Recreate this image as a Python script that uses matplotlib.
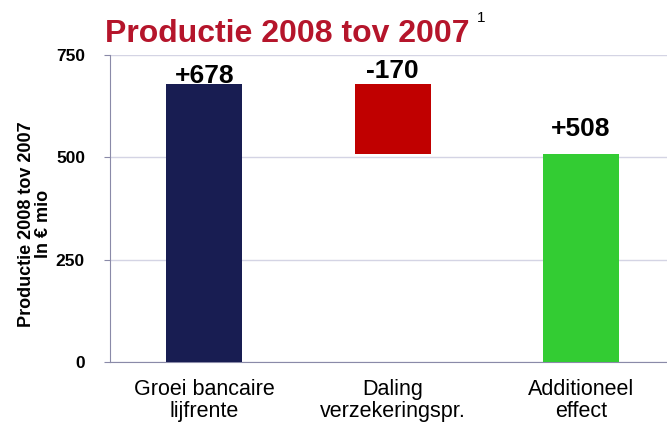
import matplotlib.pyplot as plt

plt.rcParams['font.family'] = ['Liberation Sans', 'DejaVu Sans']

# data
categories = ["Groei bancaire\nlijfrente", "Daling\nverzekeringspr.", "Additioneel\neffect"]
bottoms = [0, 508, 0]
heights = [678, 170, 508]
labels = ["+678", "-170", "+508"]
label_tops = [678, 678, 508]
colors = ["#181d52", "#c00000", "#33cc33"]
yticks = [0, 250, 500, 750]

fig = plt.figure(figsize=(6.67, 4.25), dpi=100)
ax = fig.add_axes([110 / 667, 1 - 362 / 425, 557 / 667, 307 / 425])

x = range(len(categories))
ax.bar(x, heights, bottom=bottoms, width=0.403, color=colors, zorder=3)

# label gap above bar top (data units)
offsets = [4, 15, 43]
for i, (lab, top) in enumerate(zip(labels, label_tops)):
    ax.text(i, top + offsets[i], lab, ha='center', va='baseline',
            fontsize=19, fontweight='bold', color='black')

ax.set_xlim(-0.5, 2.456)
ax.set_ylim(0, 750)
ax.set_yticks(yticks)
ax.set_yticklabels([str(t) for t in yticks], fontsize=12.5, fontweight='bold')
ax.set_xticks(list(x))
ax.set_xticklabels(categories, fontsize=15.5, linespacing=1.1)
ax.tick_params(axis='x', length=0, pad=12)
ax.tick_params(axis='y', length=4, color='#8a8aa8', pad=14)
ax.yaxis.grid(True, color='#d4d4e4', linewidth=1, zorder=0)

for s in ['top', 'right']:
    ax.spines[s].set_visible(False)
for s in ['left', 'bottom']:
    ax.spines[s].set_color('#8a8aa8')

ax.set_ylabel("Productie 2008 tov 2007\nIn € mio", fontsize=13, fontweight='bold',
              linespacing=1.0)
ax.yaxis.set_label_coords(-0.105, 0.45)

fig.text(105 / 667, 1 - 42 / 425, "Productie 2008 tov 2007", fontsize=23,
         fontweight='bold', color='#b5152b', ha='left', va='baseline')
fig.text(477 / 667, 1 - 22 / 425, "1", fontsize=11, color='black', ha='left', va='baseline')

plt.savefig("out.png", dpi=100)
